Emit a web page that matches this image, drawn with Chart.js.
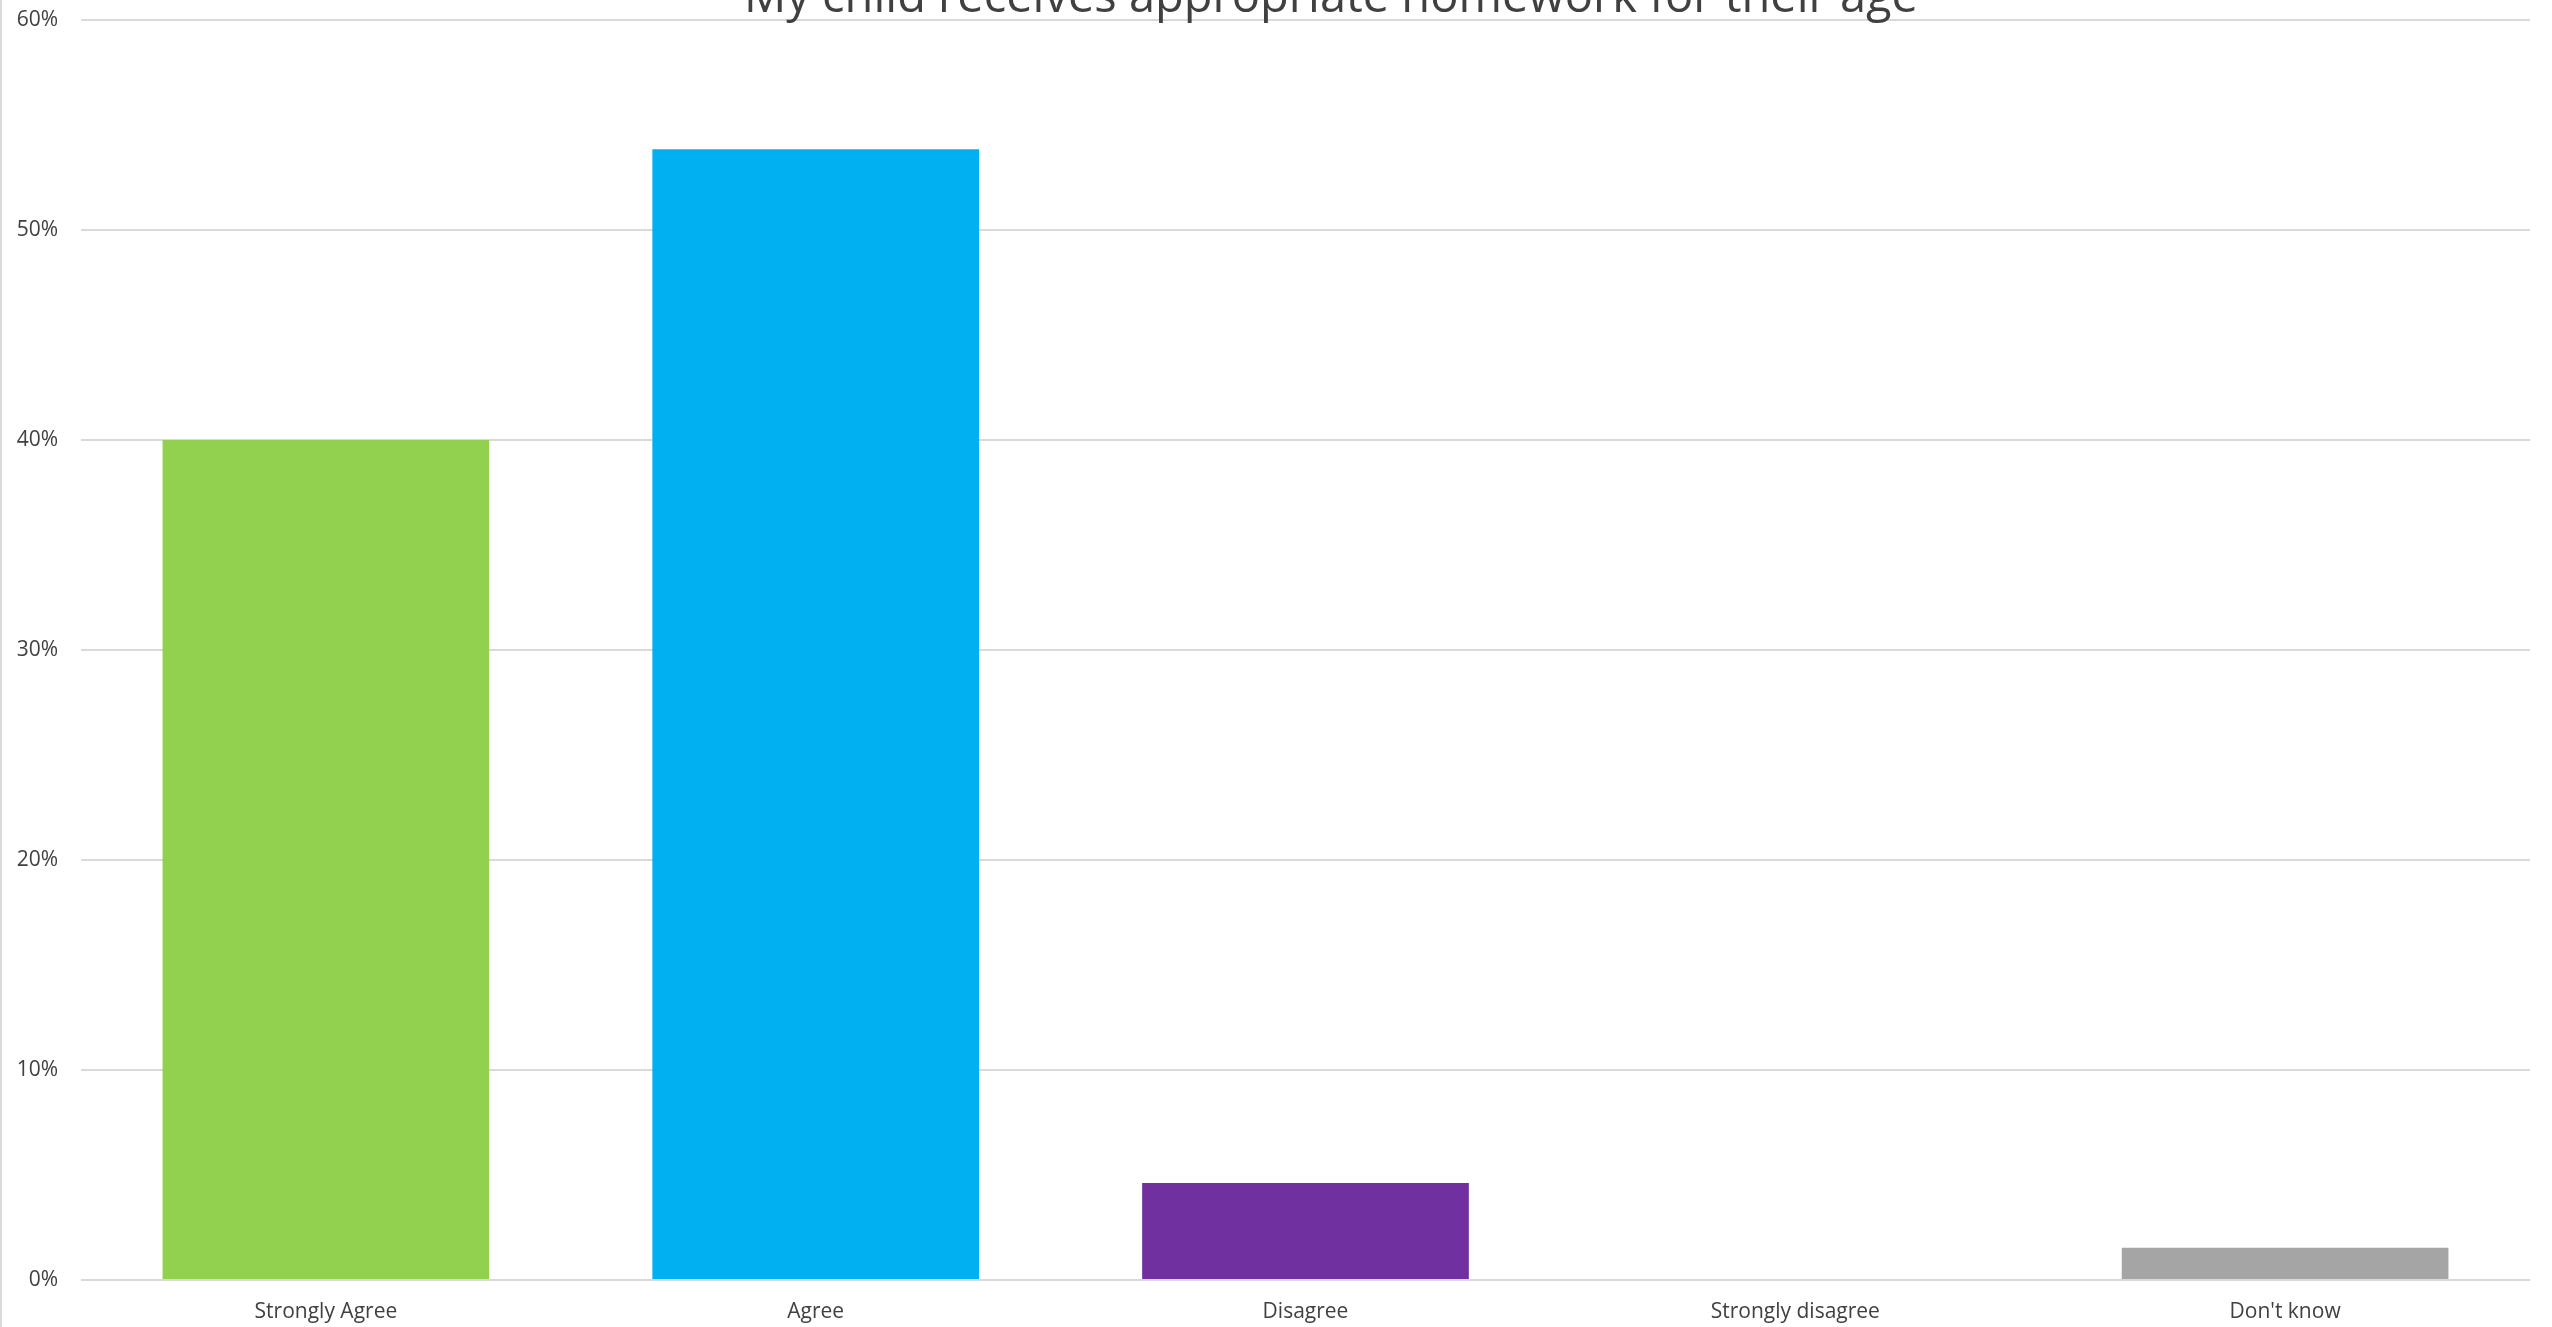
<!DOCTYPE html>
<html>
<head>
<meta charset="utf-8">
<title>My child receives appropriate homework for their age</title>
<script src="https://cdn.jsdelivr.net/npm/chart.js@4/dist/chart.umd.min.js"></script>
<style>
    html, body { margin: 0; padding: 0; background: #ffffff; overflow: hidden; }
    #wrap { width: 2550px; height: 1327px; border-left: 2px solid #d9d9d9; }
</style>
</head>
<body>
<div id="wrap"><canvas id="homework"></canvas></div>
<script>
const chartTitle = 'My child receives appropriate homework for their age';
const categories = ['Strongly Agree', 'Agree', 'Disagree', 'Strongly disagree', "Don't know"];
const shares = [40.0, 53.85, 4.62, 0, 1.54];
const barColors = ['#92d050', '#00b0f0', '#7030a0', '#ffc000', '#a5a5a5'];
const yMax = 60;
const yStep = 10;

const textColor = '#404040';
const gridColor = '#d9d9d9';

// Excel puts the title a bit right of the plot centre and it is cut at the top
const titlePlugin = {
    id: 'excelTitle',
    afterDraw(chart) {
        const ctx = chart.ctx;
        ctx.save();
        ctx.font = '47px "Open Sans"';
        ctx.fillStyle = textColor;
        ctx.textAlign = 'center';
        ctx.textBaseline = 'alphabetic';
        ctx.fillText(chartTitle, 1329, 12);
        ctx.restore();
    }
};

const canvas = document.getElementById('homework');
canvas.width = 2550;
canvas.height = 1327;

new Chart(canvas, {
    type: 'bar',
    data: {
        labels: categories,
        datasets: [{
            label: 'Share',
            data: shares,
            backgroundColor: barColors,
            borderWidth: 0,
            barPercentage: 0.667,
            categoryPercentage: 1.0,
        }],
    },
    options: {
        responsive: false,
        animation: false,
        layout: {
            padding: { left: 0, right: 22, top: 20, bottom: 0 },
        },
        plugins: {
            legend: { display: false },
            tooltip: { enabled: false },
            title: { display: false },
        },
        scales: {
            x: {
                grid: { display: false, drawTicks: false },
                border: { display: false },
                ticks: {
                    color: textColor,
                    font: { family: 'Open Sans', size: 21 },
                    padding: 19,
                    maxRotation: 0,
                },
                afterFit: (scale) => { scale.height = 47; },
            },
            y: {
                min: 0,
                max: yMax,
                grid: { color: gridColor, lineWidth: 2, drawTicks: false },
                border: { display: false },
                ticks: {
                    stepSize: yStep,
                    color: textColor,
                    font: { family: 'Open Sans', size: 21 },
                    padding: 23,
                    callback: (value) => value + '%',
                },
                afterFit: (scale) => {
                    scale.width = 79;
                    scale.paddingTop = 0;
                    scale.paddingBottom = 0;
                },
            },
        },
    },
    plugins: [titlePlugin],
});
</script>
</body>
</html>
